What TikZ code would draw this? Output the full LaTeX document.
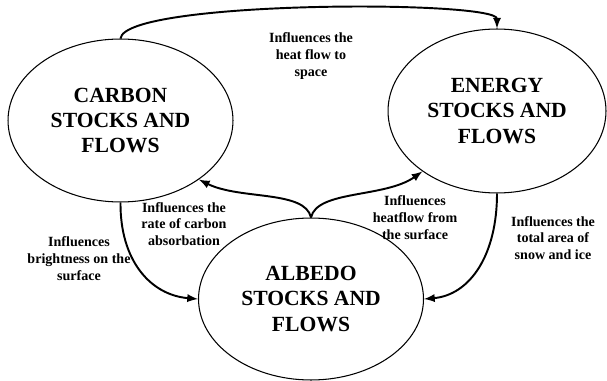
\documentclass[tikz,border=0pt]{standalone}
\usepackage{fontspec}
\setmainfont{Liberation Serif}
\usetikzlibrary{shapes.geometric}
\begin{document}
\begin{tikzpicture}[x=0.02cm, y=-0.02cm, nodes = {align = center}, >=latex]

  \tikzstyle{stock}=[draw, ellipse, inner sep=0pt, line width=0.6pt, font=\fontsize{12.3}{14.5}\selectfont\bfseries]
  \tikzstyle{infl}=[inner sep=0pt, font=\fontsize{8}{9.6}\selectfont\bfseries]
  \tikzstyle{link}=[->, line width=1.1pt]

  \useasboundingbox (0,0) rectangle (607,381);

  \node[stock, minimum width=4.5cm, minimum height=3.26cm] (carbon) at (120.5,120.5) {CARBON\\STOCKS AND\\FLOWS};
  \node[stock, minimum width=4.36cm, minimum height=3.28cm] (energy) at (497,111) {ENERGY\\STOCKS AND\\FLOWS};
  \node[stock, minimum width=4.5cm, minimum height=3.24cm] (albedo) at (311,299) {ALBEDO\\STOCKS AND\\FLOWS};

  \node[infl] (l-space) at (311,56) {Influences the\\heat flow to\\space};
  \node[infl] (l-carbon) at (184,224) {Influences the\\rate of carbon\\absorbation};
  \node[infl] (l-bright) at (79,259) {Influences\\brightness on the\\surface};
  \node[infl] (l-heat) at (415,218) {Influences\\heatflow from\\the surface};
  \node[infl] (l-snow) at (553,238) {Influences the\\total area of\\snow and ice};

  \draw[link] (carbon.north) .. controls (125,0) and (497,0) .. (energy.north);
  \draw[link] (albedo.north) .. controls (305,190) and (240,200) .. (carbon.-37);
  \draw[link] (albedo.north) .. controls (317,190) and (385,198) .. (energy.-141);
  \draw[link] (carbon.south) .. controls (120,260) and (150,295) .. (albedo.west);
  \draw[link] (energy.south) .. controls (497,255) and (470,295) .. (albedo.east);

\end{tikzpicture}
\end{document}
